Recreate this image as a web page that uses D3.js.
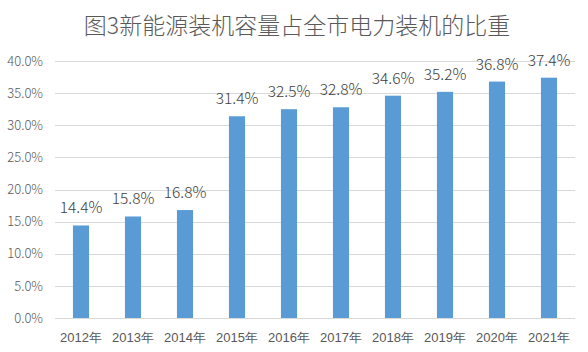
<!DOCTYPE html>
<html><head><meta charset="utf-8">
<script src="https://cdn.jsdelivr.net/npm/d3@7"></script>
<style>body{margin:0;background:#fff}</style>
</head><body>
<script>
const title = "图3新能源装机容量占全市电力装机的比重";
const categories = ["2012年","2013年","2014年","2015年","2016年","2017年","2018年","2019年","2020年","2021年"];
const values = [14.4,15.8,16.8,31.4,32.5,32.8,34.6,35.2,36.8,37.4];
const yTicks = [0,5,10,15,20,25,30,35,40];

const W=588,H=352;
const svg=d3.select("body").append("svg").attr("width",W).attr("height",H)
  .style("font-family","'Noto Sans CJK SC',sans-serif");
svg.append("rect").attr("width",W).attr("height",H).attr("fill","#fff");
const x=d3.scaleBand().domain(categories).range([55,575]).paddingInner(0.69).paddingOuter(0.345);
const y=d3.scaleLinear().domain([0,40]).range([318,61]);

svg.append("text").attr("x",297).attr("y",34).attr("text-anchor","middle")
  .attr("font-size",23).attr("font-weight",300).attr("fill","#595959").text(title);

const grid=svg.append("g");
grid.selectAll("line").data(yTicks).join("line")
  .attr("x1",55).attr("x2",575).attr("y1",d=>Math.round(y(d))+0.5).attr("y2",d=>Math.round(y(d))+0.5)
  .attr("stroke","#d9d9d9").attr("stroke-width",1);

const yAxis=svg.append("g").attr("transform","translate(43,0)")
  .call(d3.axisLeft(y).tickValues(yTicks).tickFormat(d=>d.toFixed(1)+"%").tickSize(0).tickPadding(0));
yAxis.select(".domain").remove();
yAxis.selectAll("text").attr("font-size",13).attr("font-weight",300).attr("fill","#595959").attr("font-family","'Noto Sans CJK SC',sans-serif");

const xAxis=svg.append("g").attr("transform","translate(0,318)")
  .call(d3.axisBottom(x).tickSize(0).tickPadding(15));
xAxis.select(".domain").remove();
xAxis.selectAll("text").attr("font-size",13).attr("font-weight",300).attr("fill","#595959");

svg.append("g").selectAll("rect").data(values).join("rect")
  .attr("x",(d,i)=>x(categories[i])).attr("width",x.bandwidth())
  .attr("y",d=>y(d)).attr("height",d=>y(0)-y(d)).attr("fill","#5b9bd5");

svg.append("g").selectAll("text").data(values).join("text")
  .attr("x",(d,i)=>x(categories[i])+x.bandwidth()/2).attr("y",d=>y(d)-12)
  .attr("text-anchor","middle").attr("font-size",15.5).attr("font-weight",300).attr("fill","#404040")
  .attr("font-family","'Noto Sans CJK SC',sans-serif")
  .text(d=>d.toFixed(1)+"%");
</script>
</body></html>
